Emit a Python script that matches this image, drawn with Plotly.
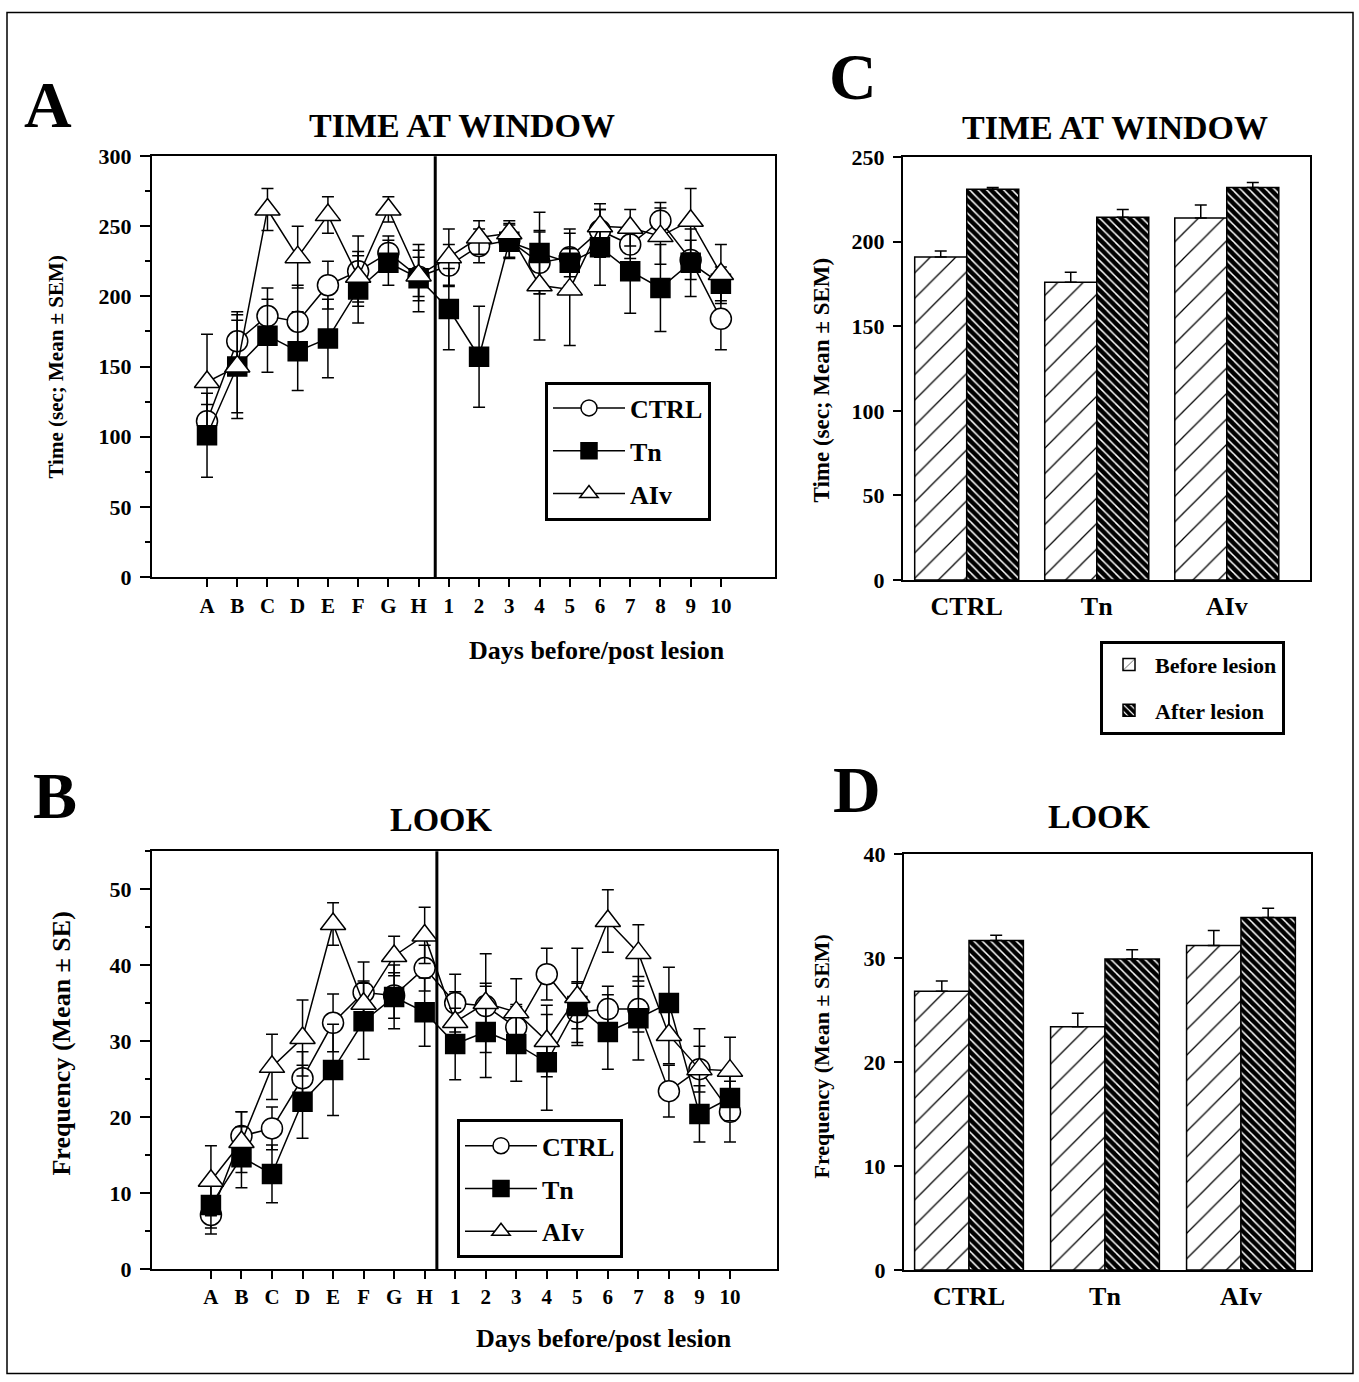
import plotly.graph_objects as go

# ---------------- data ----------------
days = ["A", "B", "C", "D", "E", "F", "G", "H",
        "1", "2", "3", "4", "5", "6", "7", "8", "9", "10"]

# Panel A: TIME AT WINDOW (sec)
ctrl_time = [111, 168, 186, 182, 208, 218, 231, 214, 222, 236, 240, 224, 228, 247, 237, 254, 226, 184]
ctrl_time_err = [12, 21, 20, 26, 17, 25, 12, 14, 15, 12, 12, 22, 20, 19, 10, 13, 14, 22]
tn_time = [101, 150, 172, 161, 170, 205, 224, 213, 191, 157, 239, 231, 224, 235, 218, 206, 224, 209]
tn_time_err = [30, 37, 26, 28, 28, 24, 16, 24, 29, 36, 12, 29, 10, 27, 30, 31, 24, 12]
aiv_time = [139, 150, 262, 228, 258, 214, 262, 215, 228, 242, 245, 208, 205, 250, 249, 243, 254, 216]
aiv_time_err = [34, 33, 15, 22, 13, 18, 9, 18, 20, 12, 9, 39, 40, 12, 13, 20, 23, 21]

# Panel B: LOOK (frequency)
ctrl_look = [7.1, 17.5, 18.5, 25.1, 32.4, 36.4, 36.0, 39.6, 35.0, 34.6, 31.8, 38.8, 33.8, 34.2, 34.2, 23.4, 26.3, 20.7]
ctrl_look_err = [2.5, 3.2, 2.8, 3.5, 3.8, 4.0, 3.0, 3.0, 3.8, 3.0, 3.0, 3.4, 4.0, 3.0, 3.0, 3.4, 3.0, 4.0]
tn_look = [8.4, 14.7, 12.5, 22.0, 26.2, 32.6, 35.8, 33.8, 29.6, 31.2, 29.6, 27.2, 34.6, 31.2, 33.0, 35.0, 20.4, 22.5]
tn_look_err = [3.0, 4.0, 3.8, 4.8, 6.0, 5.0, 4.2, 4.5, 4.7, 6.0, 4.9, 6.3, 3.0, 4.9, 5.5, 4.7, 3.7, 3.0]
aiv_look = [11.6, 16.7, 26.6, 30.4, 45.4, 34.9, 41.2, 43.9, 32.5, 35.0, 33.8, 30.0, 35.8, 45.8, 41.6, 30.8, 26.3, 26.1]
aiv_look_err = [4.6, 4.0, 4.3, 5.0, 2.8, 3.0, 2.6, 3.7, 4.0, 6.5, 4.4, 4.7, 6.4, 4.1, 3.7, 3.8, 5.3, 4.4]

# Panels C & D: before / after lesion
groups = ["CTRL", "Tn", "AIv"]
time_before = [191, 176, 214]
time_before_err = [3.5, 6, 7.7]
time_after = [231, 214.5, 232]
time_after_err = [1.0, 4.5, 3.0]
look_before = [26.8, 23.4, 31.2]
look_before_err = [1.0, 1.3, 1.45]
look_after = [31.7, 29.9, 33.9]
look_after_err = [0.5, 0.9, 0.9]

# ---------------- styling ----------------
SERIF = "Liberation Serif, Times New Roman, DejaVu Serif, serif"
W, H = 1359, 1382


def px_x(px):
    return px / W


def px_y(py):
    # compensate the vertical placement observed in the rendered page
    return 1 - ((py - 10.4) / 0.9848) / H


xpos = list(range(len(days)))

series_style = {
    "CTRL": dict(symbol="circle", color="white", size=21),
    "Tn": dict(symbol="square", color="black", size=19),
    "AIv": dict(symbol="triangle-up", color="white", size=22),
}

fig = go.Figure()


def add_series(name, y, err, xa, ya, legend):
    st = series_style[name]
    fig.add_trace(go.Scatter(
        x=xpos, y=y, name=name, mode="lines+markers",
        xaxis=xa, yaxis=ya, legend=legend, showlegend=True,
        legendgroup=name + legend,
        line=dict(color="black", width=1.5),
        marker=dict(symbol=st["symbol"], size=st["size"], color=st["color"],
                    line=dict(color="black", width=1.5)),
        error_y=dict(type="data", array=err, visible=True,
                     color="black", thickness=1.5, width=6),
    ))


add_series("CTRL", ctrl_time, ctrl_time_err, "x", "y", "legend")
add_series("Tn", tn_time, tn_time_err, "x", "y", "legend")
add_series("AIv", aiv_time, aiv_time_err, "x", "y", "legend")
add_series("CTRL", ctrl_look, ctrl_look_err, "x2", "y2", "legend2")
add_series("Tn", tn_look, tn_look_err, "x2", "y2", "legend2")
add_series("AIv", aiv_look, aiv_look_err, "x2", "y2", "legend2")

before_marker = dict(color="white", line=dict(color="black", width=1.5),
                     pattern=dict(shape="/", fgcolor="black", bgcolor="white",
                                  size=18, solidity=0.07, fillmode="replace"))
after_marker = dict(color="black", line=dict(color="black", width=1.5),
                    pattern=dict(shape="\\", fgcolor="white", bgcolor="black",
                                 size=6, solidity=0.25, fillmode="replace"))


def add_bars(name, y, err, xa, ya, marker, show, legendgroup):
    fig.add_trace(go.Bar(
        x=groups, y=y, name=name, xaxis=xa, yaxis=ya,
        legend="legend3", showlegend=show, legendgroup=legendgroup,
        marker=marker,
        error_y=dict(type="data", array=err, arrayminus=[0] * len(err),
                     symmetric=False, visible=True,
                     color="black", thickness=1.5, width=6),
    ))


add_bars("Before lesion", time_before, time_before_err, "x3", "y3", before_marker, True, "before")
add_bars("After lesion", time_after, time_after_err, "x3", "y3", after_marker, True, "after")
add_bars("Before lesion", look_before, look_before_err, "x4", "y4", before_marker, False, "before")
add_bars("After lesion", look_after, look_after_err, "x4", "y4", after_marker, False, "after")

tickfont = dict(family=SERIF, size=22, color="black", weight="bold")
axis_common = dict(showline=True, linecolor="black", linewidth=2, mirror=True,
                   showgrid=False, zeroline=False, tickcolor="black", tickwidth=1.5)
legend_common = dict(xanchor="left", yanchor="top", bgcolor="white",
                     bordercolor="black", borderwidth=3)

fig.update_layout(
    width=W, height=H,
    margin=dict(l=0, r=0, t=0, b=0),
    paper_bgcolor="white", plot_bgcolor="white",
    barmode="group", bargap=0.2, bargroupgap=0,
    font=dict(family=SERIF, color="black"),
    xaxis=dict(domain=[px_x(152), px_x(775)], anchor="y", range=[-1.82, 18.79],
               tickvals=xpos, ticktext=days, ticks="outside", ticklen=8,
               ticklabelstandoff=1, tickfont=dict(tickfont, size=21), **axis_common),
    yaxis=dict(domain=[px_y(577), px_y(155)], anchor="x", range=[0, 300],
               dtick=50, ticks="outside", ticklen=10, ticklabelstandoff=4,
               minor=dict(dtick=25, ticks="outside", ticklen=5, tickcolor="black", tickwidth=1.5),
               tickfont=tickfont, **axis_common),
    xaxis2=dict(domain=[px_x(152), px_x(777)], anchor="y2", range=[-1.93, 18.54],
                tickvals=xpos, ticktext=days, ticks="outside", ticklen=8,
                ticklabelstandoff=0, tickfont=dict(tickfont, size=21), **axis_common),
    yaxis2=dict(domain=[px_y(1271), px_y(852)], anchor="x2", range=[0, 55],
                tickvals=[0, 10, 20, 30, 40, 50], ticks="outside", ticklen=10, ticklabelstandoff=4,
                minor=dict(dtick=5, ticks="outside", ticklen=5, tickcolor="black", tickwidth=1.5),
                tickfont=tickfont, **axis_common),
    xaxis3=dict(domain=[px_x(903), px_x(1310)], anchor="y3", type="category",
                range=[-0.49, 2.64], ticks="", ticklabelstandoff=2,
                tickfont=dict(tickfont, size=26), **axis_common),
    yaxis3=dict(domain=[px_y(580), px_y(156)], anchor="x3", range=[0, 250],
                dtick=50, ticks="outside", ticklen=8, ticklabelstandoff=4,
                tickfont=tickfont, **axis_common),
    xaxis4=dict(domain=[px_x(904), px_x(1311)], anchor="y4", type="category",
                range=[-0.478, 2.515], ticks="", ticklabelstandoff=2,
                tickfont=dict(tickfont, size=26), **axis_common),
    yaxis4=dict(domain=[px_y(1272), px_y(855)], anchor="x4", range=[0, 40],
                dtick=10, ticks="outside", ticklen=8, ticklabelstandoff=4,
                tickfont=tickfont, **axis_common),
    legend=dict(x=px_x(545), y=px_y(381),
                font=dict(family=SERIF, size=26, color="black", weight="bold"),
                tracegroupgap=6, itemwidth=72, **legend_common),
    legend2=dict(x=px_x(457), y=px_y(1121),
                 font=dict(family=SERIF, size=26, color="black", weight="bold"),
                 tracegroupgap=6, itemwidth=72, **legend_common),
    legend3=dict(x=px_x(1100), y=px_y(641),
                 font=dict(family=SERIF, size=22, color="black", weight="bold"),
                 tracegroupgap=14, itemwidth=42, **legend_common),
)

# divider between pre- and post-lesion days
fig.add_shape(type="line", xref="x", yref="y domain", x0=7.55, x1=7.55, y0=0, y1=1,
              line=dict(color="black", width=3))
fig.add_shape(type="line", xref="x2", yref="y2 domain", x0=7.4, x1=7.4, y0=0, y1=1,
              line=dict(color="black", width=3))
# outer frame
fig.add_shape(type="rect", xref="paper", yref="paper",
              x0=px_x(7), x1=px_x(1353), y0=px_y(1376), y1=px_y(11),
              line=dict(color="black", width=1.5))


def text(t, x, y, size, angle=0):
    fig.add_annotation(text=t, x=px_x(x), y=px_y(y), xref="paper", yref="paper",
                       xanchor="center", yanchor="middle", showarrow=False,
                       textangle=angle,
                       font=dict(family=SERIF, size=size, color="black", weight="bold"))


# panel letters
text("A", 48, 103, 66)
text("B", 55, 796, 66)
text("C", 853, 75, 66)
text("D", 857, 790, 66)
# panel titles
text("TIME AT WINDOW", 462, 124, 34)
text("LOOK", 441, 820, 34)
text("TIME AT WINDOW", 1115, 126, 34)
text("LOOK", 1099, 817, 34)
# axis titles
text("Time (sec; Mean ± SEM)", 56, 367, 21, -90)
text("Frequency (Mean ± SE)", 62, 1045, 26, -90)
text("Time (sec; Mean ± SEM)", 822, 380, 23, -90)
text("Frequency (Mean ± SEM)", 822, 1058, 22, -90)
text("Days before/post lesion", 597, 651, 26)
text("Days before/post lesion", 604, 1341, 26)

fig.write_html("out.html")
